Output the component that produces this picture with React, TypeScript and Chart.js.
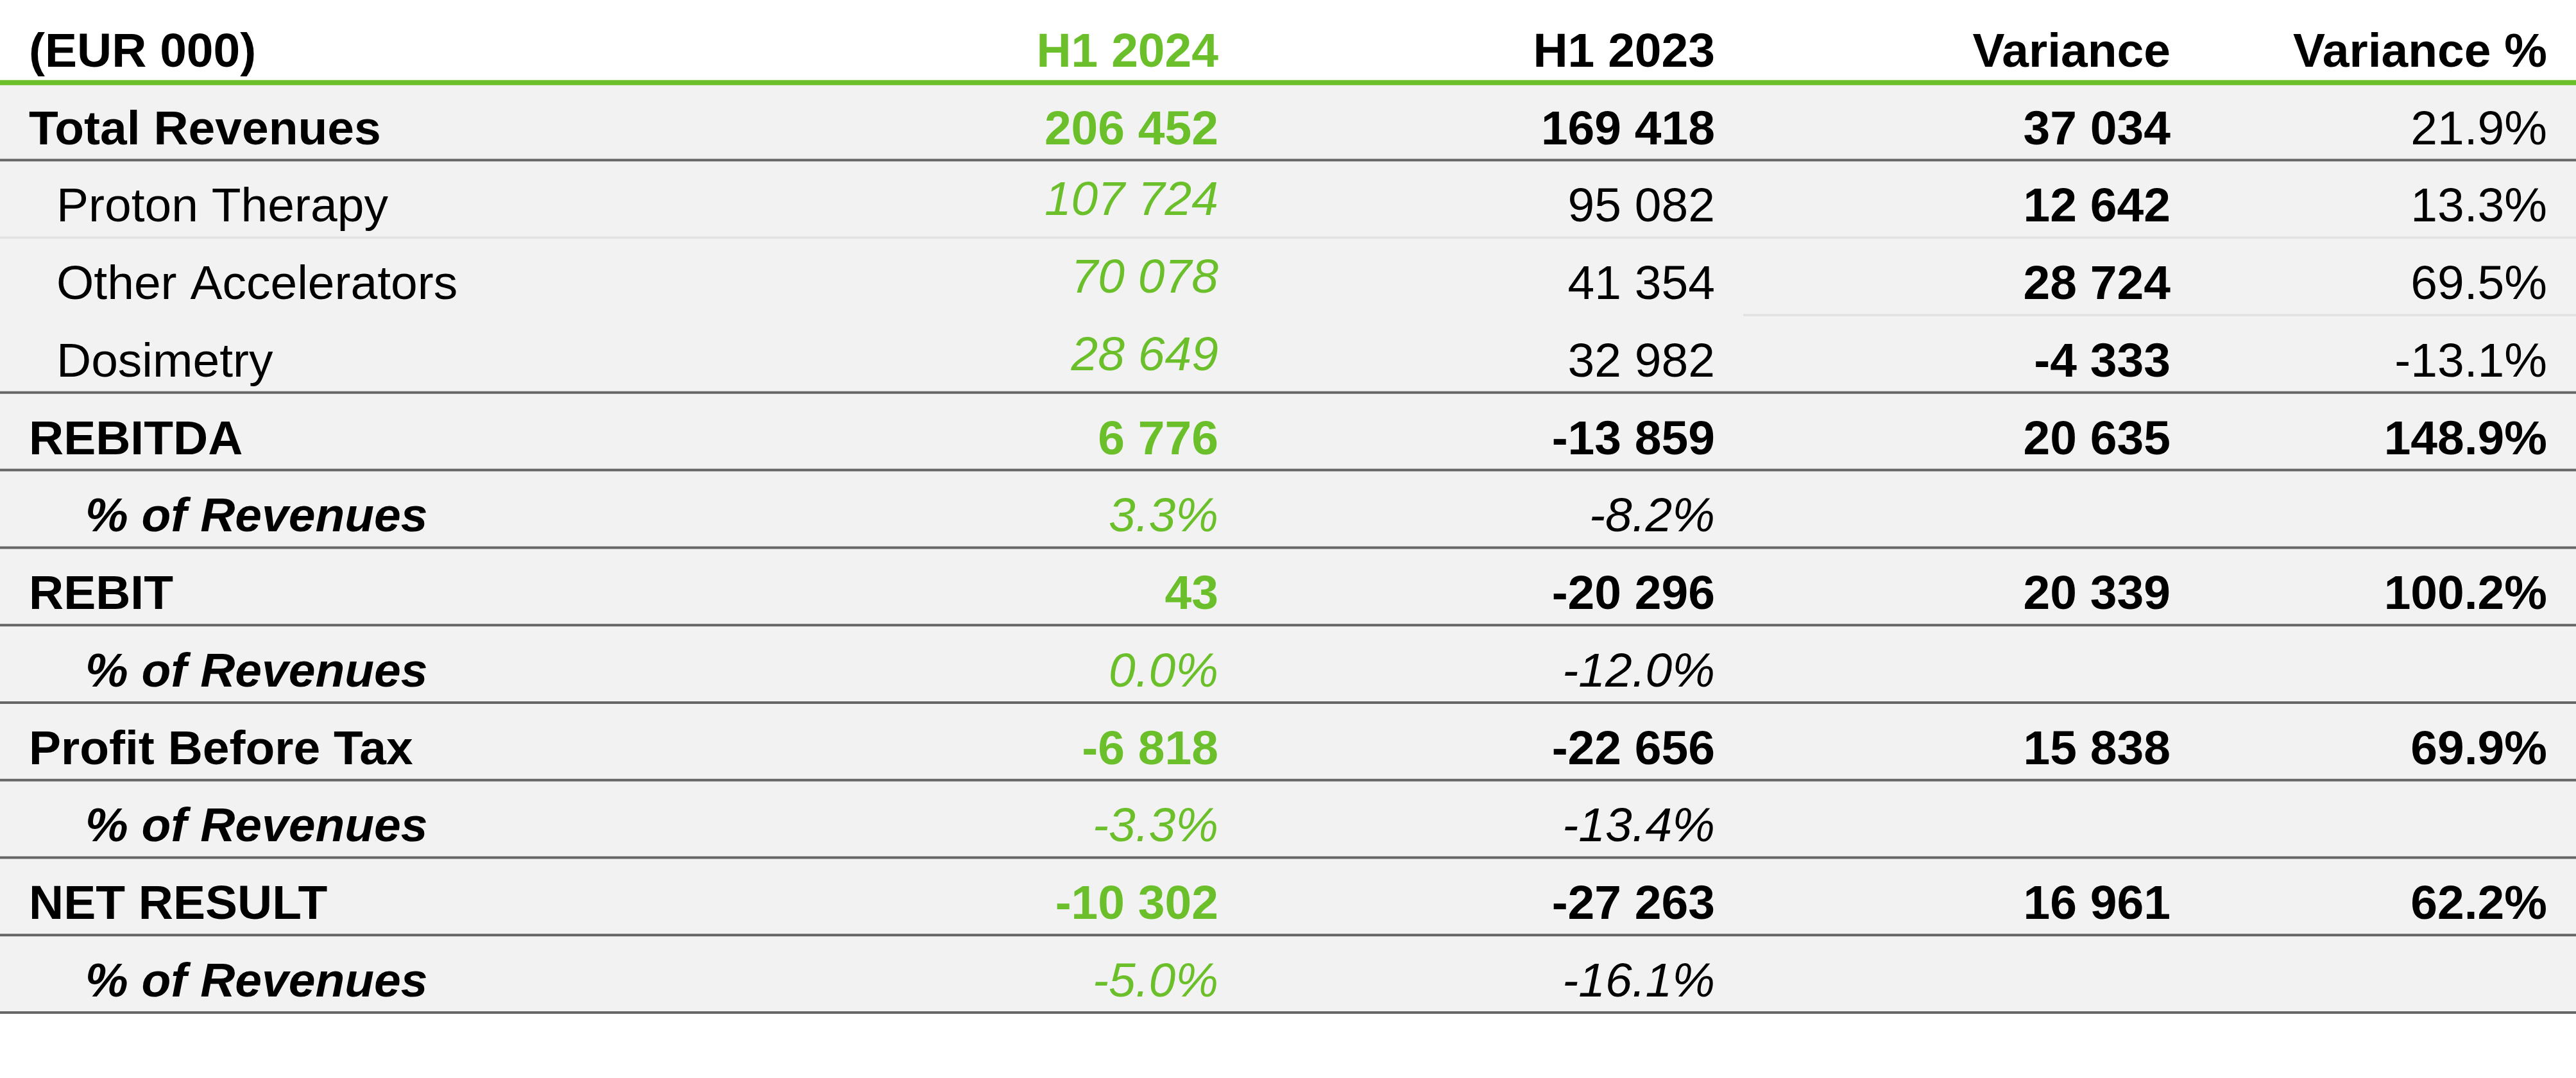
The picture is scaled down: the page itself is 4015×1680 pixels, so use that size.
import React, { useEffect, useRef } from "react";
import { Chart, registerables } from "chart.js";

Chart.register(...registerables);

// ---------- data ----------
const columnHeaders = ["(EUR 000)", "H1 2024", "H1 2023", "Variance", "Variance %"];

const rowLabels = [
  "Total Revenues",
  "Proton Therapy",
  "Other Accelerators",
  "Dosimetry",
  "REBITDA",
  "% of Revenues",
  "REBIT",
  "% of Revenues",
  "Profit Before Tax",
  "% of Revenues",
  "NET RESULT",
  "% of Revenues",
];

const rowKinds = [
  "total",
  "segment",
  "segment",
  "segment",
  "metric",
  "pct",
  "metric",
  "pct",
  "metric",
  "pct",
  "metric",
  "pct",
];

const h1_2024 = [206452, 107724, 70078, 28649, 6776, 3.3, 43, 0.0, -6818, -3.3, -10302, -5.0];
const h1_2023 = [169418, 95082, 41354, 32982, -13859, -8.2, -20296, -12.0, -22656, -13.4, -27263, -16.1];
const variance = [37034, 12642, 28724, -4333, 20635, null, 20339, null, 15838, null, 16961, null];
const variancePct = [21.9, 13.3, 69.5, -13.1, 148.9, null, 100.2, null, 69.9, null, 62.2, null];

// ---------- layout / style ----------
const W = 4015;
const H = 1680;
const GREEN = "#6bbf2a";
const DARK_LINE = "#666666";
const LIGHT_LINE = "#e1e2e1";
const ROW_BG = "#f2f2f2";
const FONT_PX = 75;
const FONT_FAMILY = '"Liberation Sans", Arial, Helvetica, sans-serif';
const LABEL_X: Record<string, number> = { total: 45, segment: 88, metric: 45, pct: 133 };
const COL_RIGHT = [1899, 2673, 3383, 3970];
const BASELINE_UP = 25; // px above row bottom line
const SEG_LIFT = 10; // italic segment values sit slightly higher
const PARTIAL_LINE_START = 2717;

function fmtNumber(v: number): string {
  const s = Math.round(Math.abs(v)).toString().replace(/\B(?=(\d{3})+(?!\d))/g, " ");
  return (v < 0 ? "-" : "") + s;
}
function fmtPct(v: number): string {
  return v.toFixed(1) + "%";
}

type CellStyle = { bold: boolean; italic: boolean; color: string; lift: number };

function cellText(col: number, row: number): string {
  const kind = rowKinds[row];
  const series = [h1_2024, h1_2023, variance, variancePct][col];
  const v = series[row];
  if (v === null || v === undefined) return "";
  if (col === 3 || kind === "pct") return fmtPct(v as number);
  return fmtNumber(v as number);
}

function cellStyle(col: number, row: number): CellStyle {
  const kind = rowKinds[row];
  const color = col === 0 ? GREEN : "#000000";
  if (kind === "total") return { bold: col !== 3, italic: false, color, lift: 0 };
  if (kind === "segment") {
    if (col === 0) return { bold: false, italic: true, color, lift: SEG_LIFT };
    return { bold: col === 2, italic: false, color, lift: 0 };
  }
  if (kind === "metric") return { bold: true, italic: false, color, lift: 0 };
  return { bold: false, italic: true, color, lift: 0 };
}

function labelStyle(row: number): CellStyle {
  const kind = rowKinds[row];
  if (kind === "segment") return { bold: false, italic: false, color: "#000", lift: 0 };
  if (kind === "pct") return { bold: true, italic: true, color: "#000", lift: 0 };
  return { bold: true, italic: false, color: "#000", lift: 0 };
}

function fontOf(s: CellStyle): string {
  return `${s.italic ? "italic " : ""}${s.bold ? "bold " : ""}${FONT_PX}px ${FONT_FAMILY}`;
}

const tablePlugin = {
  id: "tablePlugin",
  beforeDraw(chart: any) {
    const { ctx, scales } = chart;
    const x = scales.x;
    const y = scales.y;
    ctx.save();
    ctx.fillStyle = "#ffffff";
    ctx.fillRect(0, 0, chart.width, chart.height);
    const top = y.getPixelForValue(1);
    const bottom = y.getPixelForValue(rowLabels.length + 1);
    const left = x.getPixelForValue(0);
    const right = x.getPixelForValue(W);
    ctx.fillStyle = ROW_BG;
    ctx.fillRect(left, top, right - left, bottom - top);

    // row separators
    for (let r = 0; r < rowLabels.length; r++) {
      const yy = y.getPixelForValue(r + 2);
      let color = DARK_LINE;
      let lw = 4;
      let x0 = left;
      if (r === 1) {
        color = LIGHT_LINE;
        lw = 3.5;
      } else if (r === 2) {
        color = LIGHT_LINE;
        lw = 3.5;
        x0 = x.getPixelForValue(PARTIAL_LINE_START);
      }
      ctx.strokeStyle = color;
      ctx.lineWidth = lw;
      ctx.beginPath();
      ctx.moveTo(x0, yy);
      ctx.lineTo(right, yy);
      ctx.stroke();
    }
    // header underline
    ctx.strokeStyle = GREEN;
    ctx.lineWidth = 8;
    ctx.beginPath();
    ctx.moveTo(left, top);
    ctx.lineTo(right, top);
    ctx.stroke();
    ctx.restore();
  },
  afterDatasetsDraw(chart: any) {
    const { ctx, scales } = chart;
    const x = scales.x;
    const y = scales.y;
    ctx.save();
    ctx.textBaseline = "alphabetic";

    // header
    const hy = y.getPixelForValue(1) - BASELINE_UP;
    columnHeaders.forEach((h, i) => {
      ctx.font = fontOf({ bold: true, italic: false, color: "#000", lift: 0 });
      ctx.fillStyle = i === 1 ? GREEN : "#000000";
      if (i === 0) {
        ctx.textAlign = "left";
        ctx.fillText(h, x.getPixelForValue(LABEL_X.total), hy);
      } else {
        ctx.textAlign = "right";
        ctx.fillText(h, x.getPixelForValue(COL_RIGHT[i - 1]), hy);
      }
    });

    // labels (dataset 0)
    const labelMeta = chart.getDatasetMeta(0);
    labelMeta.data.forEach((pt: any, r: number) => {
      const s = labelStyle(r);
      ctx.font = fontOf(s);
      ctx.fillStyle = s.color;
      ctx.textAlign = "left";
      ctx.fillText(rowLabels[r], pt.x, pt.y - BASELINE_UP);
    });

    // value cells (datasets 1..4)
    for (let c = 0; c < 4; c++) {
      const meta = chart.getDatasetMeta(c + 1);
      meta.data.forEach((pt: any, r: number) => {
        const txt = cellText(c, r);
        if (!txt) return;
        const s = cellStyle(c, r);
        ctx.font = fontOf(s);
        ctx.fillStyle = s.color;
        ctx.textAlign = "right";
        ctx.fillText(txt, pt.x, pt.y - BASELINE_UP - s.lift);
      });
    }
    ctx.restore();
  },
};

export default function App() {
  const canvasRef = useRef<HTMLCanvasElement | null>(null);

  useEffect(() => {
    const canvas = canvasRef.current;
    if (!canvas) return;
    const rows = rowLabels.map((_, r) => r);
    const datasets = [
      {
        label: "labels",
        data: rows.map((r) => ({ x: LABEL_X[rowKinds[r]], y: r + 2 })),
        pointRadius: 0,
      },
      ...COL_RIGHT.map((cx, c) => ({
        label: columnHeaders[c + 1],
        data: rows.map((r) => ({ x: cx, y: r + 2 })),
        pointRadius: 0,
      })),
    ];
    const chart = new Chart(canvas, {
      type: "scatter",
      data: { datasets },
      options: {
        animation: false,
        responsive: false,
        devicePixelRatio: 1,
        events: [],
        layout: { padding: { top: 8, bottom: 102, left: 0, right: 0 } },
        plugins: { legend: { display: false }, tooltip: { enabled: false } },
        scales: {
          x: { type: "linear", min: 0, max: W, display: false },
          y: { type: "linear", min: 0, max: rowLabels.length + 1, reverse: true, display: false },
        },
      },
      plugins: [tablePlugin],
    } as any);
    return () => chart.destroy();
  }, []);

  return (
    <div style={{ position: "absolute", left: 0, top: 0, width: W, height: H, background: "#fff" }}>
      <canvas ref={canvasRef} width={W} height={H} style={{ display: "block", width: W, height: H }} />
    </div>
  );
}
